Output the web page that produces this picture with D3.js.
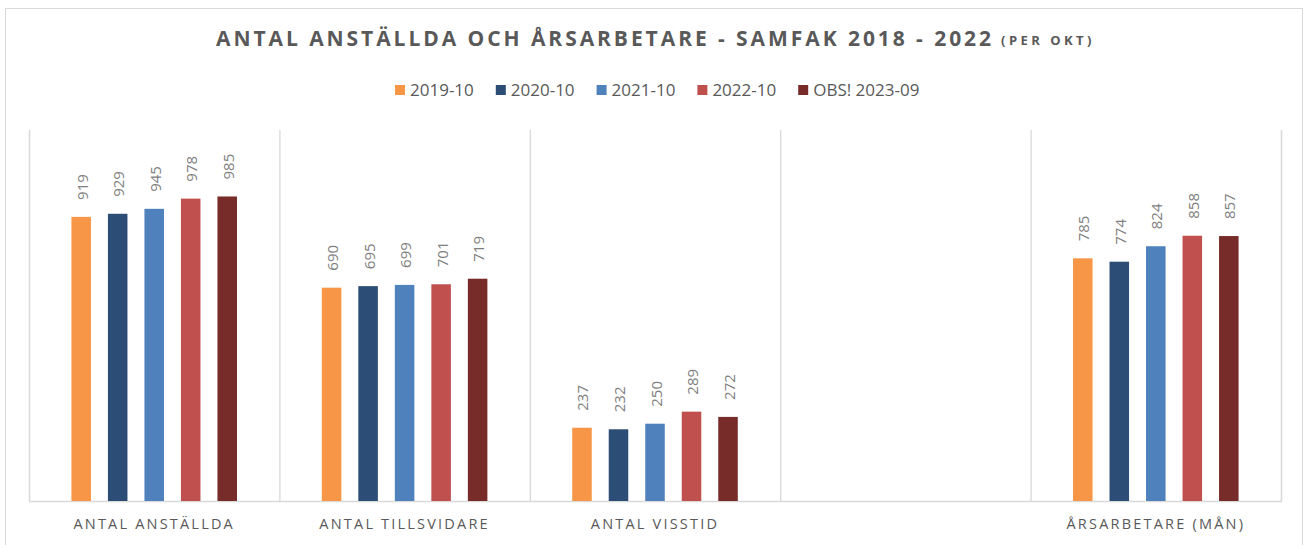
<!DOCTYPE html>
<html><head><meta charset="utf-8">
<script src="https://cdn.jsdelivr.net/npm/d3@7"></script>
<style>
html,body{margin:0;padding:0;background:#fff;}
svg{display:block;font-family:"Open Sans","Liberation Sans",sans-serif;}
</style></head>
<body>
<svg id="chart" width="1304" height="545"></svg>
<script>
const categories = ["ANTAL ANSTÄLLDA", "ANTAL TILLSVIDARE", "ANTAL VISSTID", "", "ÅRSARBETARE (MÅN)"];
const seriesNames = ["2019-10", "2020-10", "2021-10", "2022-10", "OBS! 2023-09"];
const seriesColors = ["#F79646", "#2C4D75", "#4F81BD", "#C0504D", "#772C2A"];
const s2019 = [919, 690, 237, null, 785];
const s2020 = [929, 695, 232, null, 774];
const s2021 = [945, 699, 250, null, 824];
const s2022 = [978, 701, 289, null, 858];
const s2023 = [985, 719, 272, null, 857];
const seriesValues = [s2019, s2020, s2021, s2022, s2023];
const yMax = 1200;
const titleMain = "ANTAL ANSTÄLLDA OCH ÅRSARBETARE - SAMFAK 2018 - 2022";
const titleSub = "(PER OKT)";

const svg = d3.select("#chart");
const plot = {left: 29, right: 1281, top: 130, bottom: 501};

svg.append("rect").attr("x", 5.5).attr("y", 8.5).attr("width", 1297).attr("height", 560)
  .attr("fill", "#fff").attr("stroke", "#d9d9d9").attr("stroke-width", 1);

function fitSpacing(sel, target) {
  const n = sel.text().length;
  sel.attr("letter-spacing", 0);
  const w0 = sel.node().getComputedTextLength();
  sel.attr("letter-spacing", (target - w0) / n);
}

const tMain = svg.append("text").attr("x", 216).attr("y", 46)
  .attr("font-size", 21).attr("font-weight", 700).attr("fill", "#595959").text(titleMain);
fitSpacing(tMain, 778);
const tSub = svg.append("text").attr("x", 1001).attr("y", 45)
  .attr("font-size", 13).attr("font-weight", 700).attr("fill", "#595959").text(titleSub);
fitSpacing(tSub, 94);

const x0 = d3.scaleBand().domain(d3.range(categories.length)).range([plot.left, plot.right]).padding(0);
const groupW = x0.bandwidth() * 0.729;
const x1 = d3.scaleBand().domain(d3.range(seriesNames.length)).range([0, groupW]).padding(0);
const barW = x1.bandwidth() * 0.535;
const y = d3.scaleLinear().domain([0, yMax]).range([plot.bottom, plot.top]);

const gridAxis = d3.axisBottom(d3.scaleLinear().domain([0, categories.length]).range([plot.left, plot.right]))
  .ticks(categories.length).tickSize(-(plot.bottom - plot.top)).tickFormat("");
const gg = svg.append("g").attr("transform", `translate(0,${plot.bottom})`).call(gridAxis);
gg.selectAll("line").attr("stroke", "#d9d9d9").attr("stroke-width", 1.3);
gg.select(".domain").attr("stroke", "#d9d9d9").attr("stroke-width", 1.3);

categories.forEach((c, ci) => {
  const gx = x0(ci) + (x0.bandwidth() - groupW) / 2;
  seriesValues.forEach((vals, si) => {
    const v = vals[ci];
    if (v == null) return;
    const cx = gx + x1(si) + x1.bandwidth() / 2;
    svg.append("rect").attr("x", cx - barW / 2).attr("y", y(v))
      .attr("width", barW).attr("height", y(0) - y(v))
      .attr("fill", seriesColors[si]);
    svg.append("text")
      .attr("transform", `translate(${cx + 0.5},${y(v) - 17}) rotate(-90)`)
      .attr("font-size", 15).attr("fill", "#7f7f7f")
      .attr("dominant-baseline", "central")
      .text(v);
  });
});

categories.forEach((c, ci) => {
  if (!c) return;
  svg.append("text").attr("x", x0(ci) + x0.bandwidth() / 2).attr("y", 529)
    .attr("text-anchor", "middle").attr("font-size", 14.5).attr("fill", "#595959")
    .attr("letter-spacing", 2.2).text(c);
});

let cursor = 395;
seriesNames.forEach((s, i) => {
  const g = svg.append("g");
  g.append("rect").attr("x", cursor).attr("y", 85).attr("width", 10).attr("height", 10).attr("fill", seriesColors[i]);
  const t = g.append("text").attr("x", cursor + 15).attr("y", 96)
    .attr("font-size", 17).attr("fill", "#595959").text(s);
  cursor += 15 + t.node().getComputedTextLength() + 22;
});
</script>
</body></html>
